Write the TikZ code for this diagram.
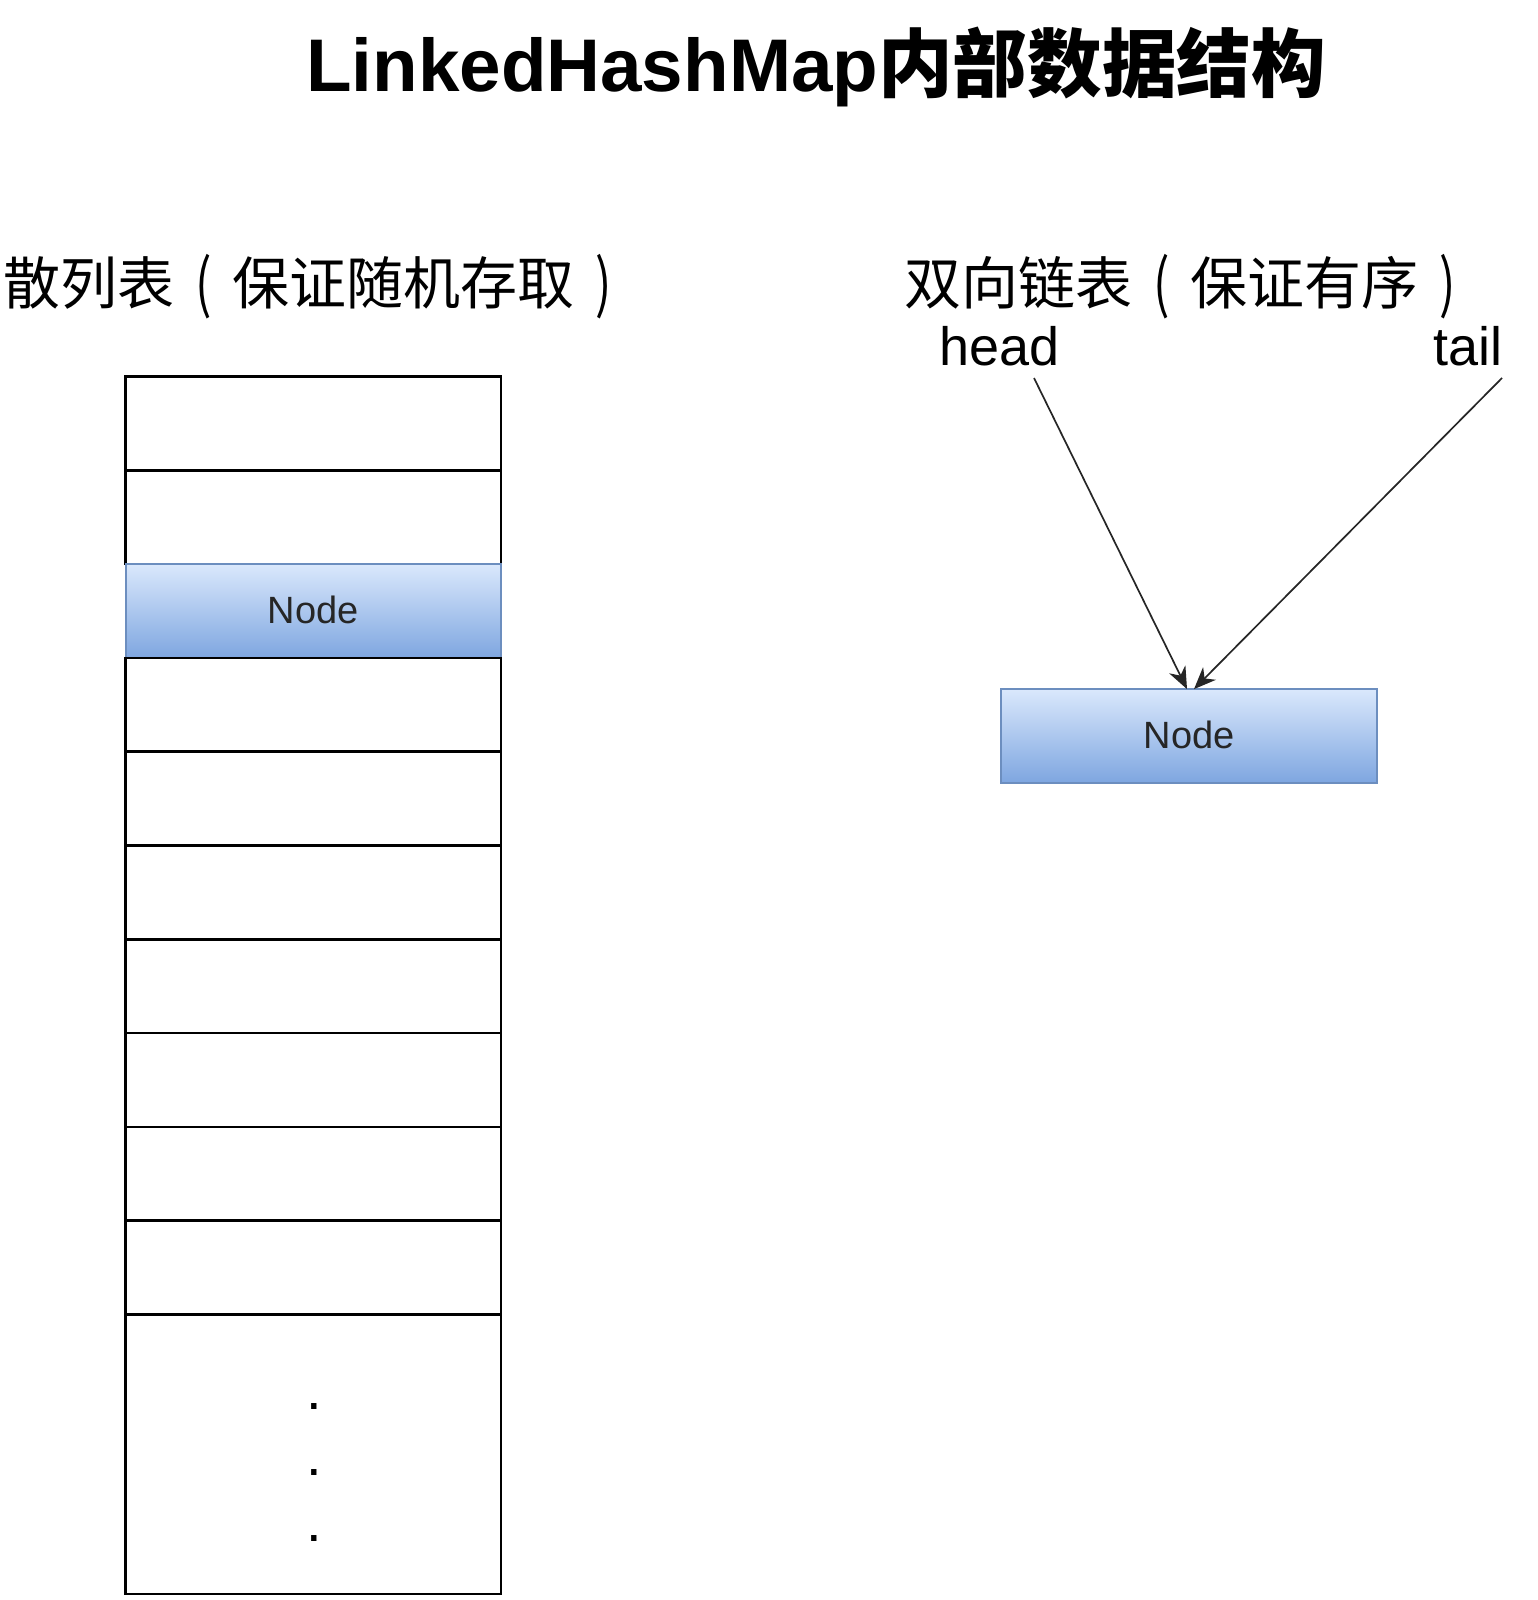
\documentclass[tikz,border=0pt]{standalone}
\usepackage{fontspec}
\setmainfont{Liberation Sans}
\newfontfamily\cjk{Noto Sans CJK SC}
\usetikzlibrary{arrows.meta,calc}
\definecolor{nodetop}{HTML}{DAE8FC}
\definecolor{nodebot}{HTML}{7EA6E0}
\definecolor{nodeborder}{HTML}{6C8EBF}
\newcommand{\lpar}{\makebox[1.02em][c]{\raisebox{-0.04em}{\scalebox{0.85}[1.12]{(}}}}
\newcommand{\rpar}{\makebox[1.02em][c]{\raisebox{-0.04em}{\scalebox{0.85}[1.12]{)}}}}
\begin{document}
\begin{tikzpicture}[x=1pt,y=-1pt,
  cell/.style={draw=black,line width=2.6pt,fill=white,minimum width=375.3pt,minimum height=93.8pt,inner sep=0pt,outer sep=0pt},
  bluenode/.style={draw=nodeborder,line width=2pt,top color=nodetop,bottom color=nodebot,minimum width=375.3pt,minimum height=93.8pt,inner sep=0pt,outer sep=0pt,font=\fontsize{38}{40}\selectfont,text=black!85},
  lbl/.style={inner sep=0pt,font=\fontsize{57}{60}\selectfont\cjk},
  ptrlbl/.style={inner sep=0pt,font=\fontsize{54}{60}\selectfont},
  ptr/.style={draw=black!85,line width=1.7pt,-{Stealth[length=22pt,width=18pt,inset=7pt]}}]
\useasboundingbox (0,0) rectangle (1538,1600);
\fill[white] (0,0) rectangle (1538,1600);
% title
\node[anchor=base,inner sep=0pt,font=\fontsize{74.6}{80}\selectfont\bfseries] (title) at (816,92) {LinkedHashMap{\cjk 内部数据结构}};
% section labels
\node[lbl,anchor=base west] (hashlbl) at (3,304) {散列表\lpar 保证随机存取\rpar};
\node[lbl,anchor=base west] (listlbl) at (904,304) {双向链表\lpar 保证有序\rpar};
% hash table
\node[cell] (c0) at (313.4,423.4) {};
\node[cell] (c1) at (313.4,517.2) {};
\node[bluenode] (c2) at (313.4,611.0) {\raisebox{3pt}{Node}};
\node[cell] (c3) at (313.4,704.8) {};
\node[cell] (c4) at (313.4,798.6) {};
\node[cell] (c5) at (313.4,892.4) {};
\node[cell] (c6) at (313.4,986.2) {};
\node[cell] (c7) at (313.4,1080.0) {};
\node[cell] (c8) at (313.4,1173.8) {};
\node[cell] (c9) at (313.4,1267.6) {};
\node[cell,minimum height=279.5pt] (c10) at (313.4,1454.25) {};
\node[inner sep=0pt,align=center,font=\fontsize{56}{66}\selectfont] (dots) at (314,1472) {.\\.\\.};
% linked list
\node[ptrlbl,anchor=base west] (head) at (939,365) {head};
\node[ptrlbl,anchor=base east] (tail) at (1503,365) {tail};
\node[bluenode] (rnode) at (1189,736) {\raisebox{3pt}{Node}};
\coordinate (hstart) at (1034,378);
\coordinate (tstart) at (1502,378);
\draw[ptr] (hstart) -- ($(rnode.north)+(-2,0)$);
\draw[ptr] (tstart) -- ($(rnode.north)+(5,0)$);
\end{tikzpicture}
\end{document}
